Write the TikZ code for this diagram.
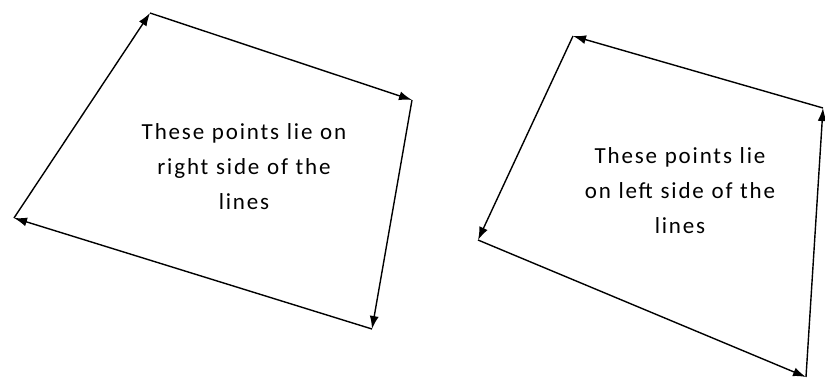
\documentclass[tikz,border=0pt]{standalone}
\usepackage{fontspec}
\setmainfont{Carlito}
\usetikzlibrary{arrows.meta}
\begin{document}
\begin{tikzpicture}[x=1pt,y=-1pt,font=\fontsize{23}{35}\selectfont\addfontfeature{LetterSpace=8},
  side/.style={line width=1.4pt,-{Latex[length=13pt,width=9pt]}},
  note/.style={align=center,text width=280pt}]
\useasboundingbox (0,0) rectangle (825,380);
% right side quad (clockwise on screen)
\foreach \j/\px/\py in {1/150/13,2/412/100,3/372/329,4/14/218}{
 \coordinate (r\j) at (\px,\py);
}
% left side quad (counterclockwise on screen)
\foreach \j/\px/\py in {1/573/36,2/478/240,3/806/377,4/823/108}{
 \coordinate (l\j) at (\px,\py);
}
\draw[side] (r1)--(r2);
\draw[side] (r2)--(r3);
\draw[side] (r3)--(r4);
\draw[side] (r4)--(r1);
\draw[side] (l4)--(l1);
\draw[side] (l1)--(l2);
\draw[side] (l2)--(l3);
\draw[side] (l3)--(l4);
\node[note] (rtext) at (244,167) {These points lie on\\right side of the\\lines};
\node[note] (ltext) at (680,191) {These points lie\\on left side of the\\lines};
\end{tikzpicture}
\end{document}
